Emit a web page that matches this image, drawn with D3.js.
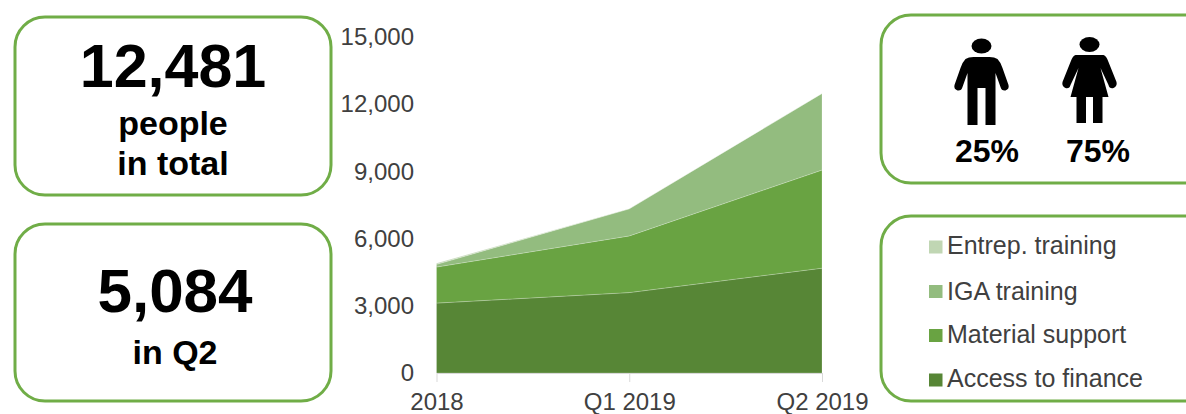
<!DOCTYPE html>
<html><head><meta charset="utf-8">
<script src="https://cdn.jsdelivr.net/npm/d3@7/dist/d3.min.js"></script>
<style>html,body{margin:0;padding:0;background:#fff}svg{display:block}text{font-family:"Liberation Sans",Arial,sans-serif}</style>
</head><body><svg id="c" width="1186" height="414"></svg>
<script>
const categories = ["2018","Q1 2019","Q2 2019"];
const accessToFinance = [3120,3590,4680];
const materialSupport = [1610,2530,4380];
const igaTraining = [120,1210,3421];
const entrepTraining = [50,0,0];
const seriesNames = ["Access to finance","Material support","IGA training","Entrep. training"];
const seriesColors = ["#578636","#69A342","#93BC7F","#C0D6B3"];
const yTicks = [0,3000,6000,9000,12000,15000];
const shares = ["25%","75%"];

const svg = d3.select("#c");
const x = d3.scalePoint().domain(categories).range([436.5,822]);
const y = d3.scaleLinear().domain([0,15000]).range([373,37]);
const rows = categories.map((c,i)=>({c,a:accessToFinance[i],m:materialSupport[i],g:igaTraining[i],e:entrepTraining[i]}));
const stack = d3.stack().keys(["a","m","g","e"])(rows);
const area = d3.area().x(d=>x(d.data.c)).y0(d=>y(d[0])).y1(d=>y(d[1]));
svg.append("g").selectAll("path").data(stack).join("path")
  .attr("d",area).attr("fill",(d,i)=>seriesColors[i])
  .attr("stroke","#fff").attr("stroke-opacity",0.35).attr("stroke-width",0.6);

const yAxis = d3.axisLeft(y).tickValues(yTicks).tickFormat(d3.format(",")).tickSize(0).tickPadding(0);
const gy = svg.append("g").attr("transform","translate(414,0)").call(yAxis);
gy.select(".domain").remove();
gy.selectAll("text").attr("font-size",24).attr("fill","#404040");

const xAxis = d3.axisBottom(x).tickSize(9).tickSizeOuter(0).tickPadding(5);
const gx = svg.append("g").attr("transform","translate(0,373)").call(xAxis);
gx.select(".domain").attr("stroke","#d9d9d9");
gx.selectAll("line").attr("stroke","#d9d9d9");
gx.selectAll("text").attr("font-size",24).attr("fill","#404040").attr("y",20);

function box(bx,by,w,h,r){svg.append("rect").attr("x",bx).attr("y",by).attr("width",w).attr("height",h).attr("rx",r).attr("ry",r).attr("fill","#fff").attr("stroke","#70AD47").attr("stroke-width",3);}
function label(tx,ty,s,size,weight="bold",fill="#000",anchor="middle"){return svg.append("text").attr("x",tx).attr("y",ty).attr("font-size",size).attr("font-weight",weight).attr("fill",fill).attr("text-anchor",anchor).text(s);}

box(15,17,316,178,30);
label(173,87,"12,481",61);
label(173,135,"people",34);
label(173,175,"in total",34);

box(15,224,316,177,30);
label(175,312,"5,084",62);
label(175,364,"in Q2",34);

box(881,15,340,168,30);
function man(cx){const g=svg.append("g").attr("transform",`translate(${cx},0)`);
 g.append("ellipse").attr("cx",0).attr("cy",46).attr("rx",10).attr("ry",7.5);
 g.append("path").attr("d","M-16,59 Q-13,57 -8,57 H8 Q13,57 16,59 Q19,62 21,68 L27,85 Q28,89 24,90.5 Q20,91 19,87 L14,73 V125 H4 V88 H-4 V125 H-14 V73 L-19,87 Q-20,91 -24,90.5 Q-28,89 -27,85 L-21,68 Q-19,62 -16,59Z");}
function woman(cx){const g=svg.append("g").attr("transform",`translate(${cx},0)`);
 g.append("ellipse").attr("cx",0).attr("cy",44.5).attr("rx",10).attr("ry",7.5);
 g.append("path").attr("d","M-14,55 H14 Q17,56 19,62 L27,82 Q28,86 24,88 Q20,89 19,85 L11,68 L19,97 H13 V123 H3.5 V97 H-3.5 V123 H-13 V97 H-19 L-11,68 L-19,85 Q-20,89 -24,88 Q-28,86 -27,82 L-19,62 Q-17,56 -14,55Z");}
man(981.5); woman(1089.5);
label(987,162,shares[0],32);
label(1098,162,shares[1],32);

box(881,216,340,185,30);
const legendSwatchY=[247,291.5,335.5,380];
const legendBaseY=[254,300,343,387];
const legendOrder=[3,2,1,0];
legendOrder.forEach((s,i)=>{
  svg.append("rect").attr("x",929).attr("y",legendSwatchY[i]-6.5).attr("width",13.5).attr("height",13).attr("fill",seriesColors[s]);
  label(947,legendBaseY[i],seriesNames[s],25,"normal","#404040","start");
});
</script></body></html>
